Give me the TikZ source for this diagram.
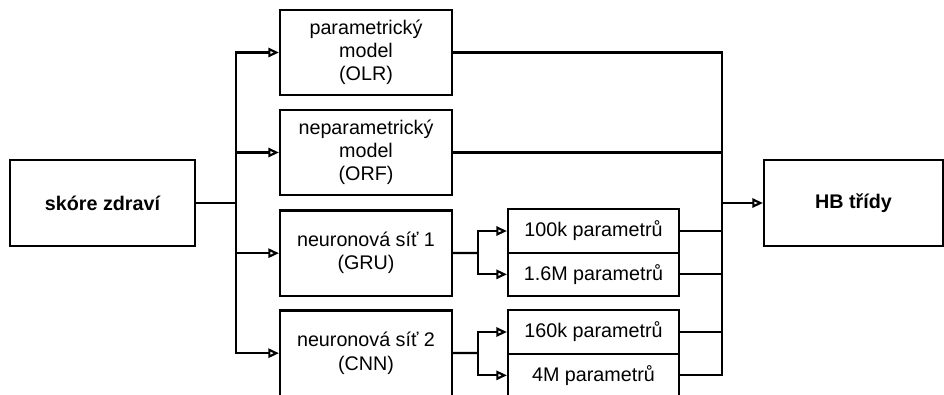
\documentclass[tikz,border=0pt]{standalone}
\usepackage{fontspec}
\setmainfont{Liberation Sans}
\usetikzlibrary{arrows.meta}
\begin{document}
\begin{tikzpicture}[x=0.75pt,y=-0.75pt,line width=1.6pt,>={Triangle[open,length=8pt,width=7pt]},
	font=\fontsize{14.8pt}{17.4pt}\selectfont]
	\tikzstyle{box} = [draw,rectangle,align=center,inner sep=0pt]
	\tikzstyle{model} = [box,minimum width=129pt,minimum height=64pt]
	\tikzstyle{end} = [box,minimum height=64.5pt,font=\fontsize{14.8pt}{17.4pt}\selectfont\bfseries]
	\tikzstyle{size} = [box,minimum width=128.25pt,minimum height=32.5pt]
	\clip (0,0) rectangle (944,394);
	\node (skore) [end,minimum width=138.75pt] at (102.5,203) {sk\'ore zdrav\'i};
	\node (olr) [model] at (366,52.5) {parametrick\'y\\model\\(OLR)};
	\node (orf) [model,below of=olr,node distance=75pt] {neparametrick\'y\\model\\(ORF)};
	\node (gru) [model,below of=orf,node distance=75.5pt] {neuronov\'a s\'i\v t 1\\(GRU)};
	\node (cnn) [model,below of=gru,node distance=75pt] {neuronov\'a s\'i\v t 2\\(CNN)};
	\node (p100k) [size] at (593.5,231) {100k parametr\r u};
	\node (p16m) [size,below of=p100k,node distance=32.5pt] {1.6M parametr\r u};
	\node (p160k) [size] at (593.5,332) {160k parametr\r u};
	\node (p4m) [size,below of=p160k,node distance=32.5pt] {4M parametr\r u};
	\node (hb) [end,minimum width=134.25pt] at (853.5,203) {HB t\v r\'idy};
	\coordinate (split) at (236,203);
	\coordinate (gsplit) at (478,253);
	\coordinate (csplit) at (478,353);
	\coordinate (merge) at (722,203);

	\draw (skore) -- (split);
	\draw[->] (split) |- (olr);
	\draw[->] (split) |- (orf);
	\draw[->] (split) |- (gru);
	\draw[->] (split) |- (cnn);
	\draw (gru) -- (gsplit);
	\draw[->] (gsplit) |- (p100k);
	\draw[->] (gsplit) |- (p16m);
	\draw (cnn) -- (csplit);
	\draw[->] (csplit) |- (p160k);
	\draw[->] (csplit) |- (p4m);
	\draw (olr) -| (merge);
	\draw (orf) -| (merge);
	\draw (p100k) -| (merge);
	\draw (p16m) -| (merge);
	\draw (p160k) -| (merge);
	\draw (p4m) -| (merge);
	\draw[->] (merge) -- (hb);
\end{tikzpicture}
\end{document}
